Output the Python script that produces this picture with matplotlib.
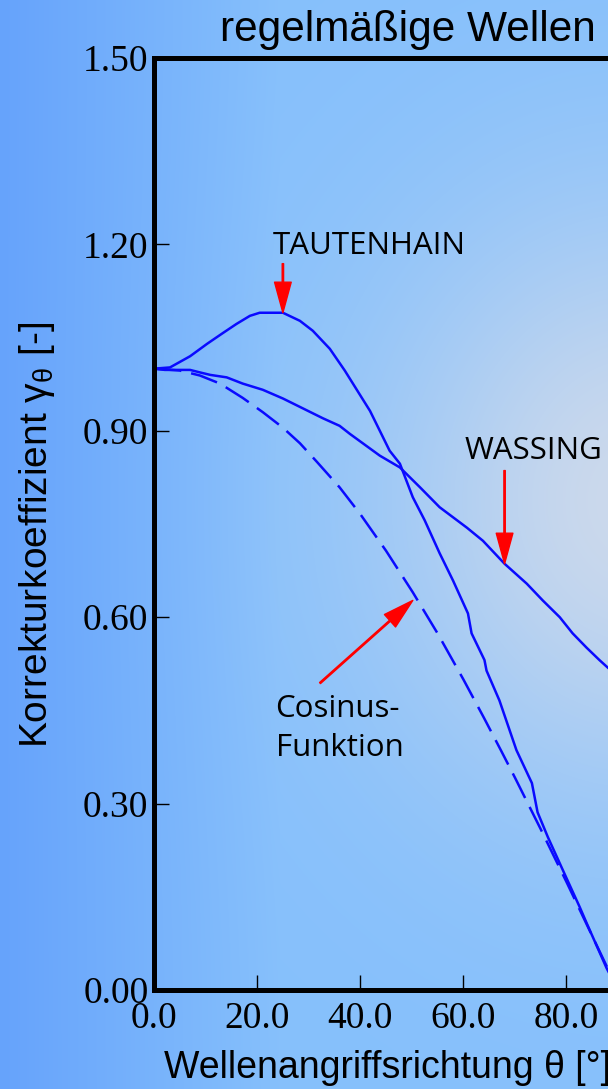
import numpy as np
import matplotlib.pyplot as plt

plt.rcParams['mathtext.fontset'] = 'custom'
plt.rcParams['mathtext.rm'] = 'Liberation Sans'
plt.rcParams['mathtext.it'] = 'Liberation Sans'

tautenhain_x = [0, 3.1, 7.0, 10.3, 13.3, 16.0, 18.6, 20.5, 25.0, 28.3, 30.8, 34.1, 37.0,
                41.9, 45.7, 47.7, 50.2, 52.5, 55.4, 58.0, 60.9, 61.6, 64.1, 64.5, 67.0,
                70.3, 73.3, 74.4, 76.4, 79.3, 82.6, 83.9, 87.8, 90.0]
tautenhain_y = [1.000, 1.002, 1.020, 1.040, 1.057, 1.072, 1.085, 1.090, 1.090, 1.077, 1.061,
                1.032, 0.997, 0.932, 0.868, 0.847, 0.793, 0.756, 0.703, 0.659, 0.606, 0.574,
                0.531, 0.514, 0.466, 0.386, 0.333, 0.286, 0.246, 0.193, 0.133, 0.108, 0.035,
                0.000]

wassing_x = [0, 2.1, 7.0, 8.9, 10.9, 14.1, 17.2, 21.1, 25.0, 28.9, 32.8, 36.0, 38.0, 43.8,
             47.7, 51.6, 55.4, 60.7, 63.8, 68.0, 72.3, 75.4, 78.7, 81.2, 83.9, 86.4, 88.0, 90.0]
wassing_y = [1.000, 0.998, 0.998, 0.994, 0.990, 0.986, 0.976, 0.966, 0.952, 0.936, 0.920,
             0.908, 0.895, 0.860, 0.841, 0.809, 0.777, 0.744, 0.723, 0.686, 0.654, 0.627,
             0.600, 0.574, 0.551, 0.531, 0.519, 0.505]

cosinus_x = [0, 5.0, 8.9, 12.8, 17.2, 21.1, 25.0, 28.3, 31.6, 36.0, 40.0, 45.0, 50.2, 55.0,
             60.0, 64.0, 67.4, 70.0, 75.0, 80.0, 85.0, 90.0]
cosinus_y = [1.000, 0.997, 0.989, 0.976, 0.953, 0.930, 0.905, 0.880, 0.850, 0.809, 0.766,
             0.707, 0.640, 0.574, 0.500, 0.438, 0.384, 0.342, 0.259, 0.174, 0.087, 0.000]

xticks = [0, 20, 40, 60, 80]
yticks = [0.0, 0.3, 0.6, 0.9, 1.2, 1.5]

W, H = 608, 1089
fig = plt.figure(figsize=(W / 100, H / 100), dpi=100)

# background gradient
yy, xx = np.mgrid[0:H, 0:W].astype(float)
c0 = np.array([102, 163, 252]) / 255
c1 = np.array([134, 192, 252]) / 255
c2 = np.array([204, 217, 236]) / 255
t = np.clip(xx / 280, 0, 1)[..., None]
base = c0 + (c1 - c0) * t
w = np.exp(-((xx - 640) / 260) ** 2 - ((yy - 500) / 300) ** 2)[..., None]
img = base + (c2 - base) * w
bg = fig.add_axes([0, 0, 1, 1], zorder=-1)
bg.imshow(img, aspect='auto', extent=[0, 1, 0, 1])
bg.axis('off')

ax = fig.add_axes([154 / W, 1 - 990 / H, 464 / W, 932 / H])
ax.set_facecolor('none')
ax.plot(tautenhain_x, tautenhain_y, color='#0a0aff', lw=1.8)
ax.plot(wassing_x, wassing_y, color='#0a0aff', lw=1.8)
ax.plot(cosinus_x, cosinus_y, color='#0a0aff', lw=1.8, dashes=(11, 4))

ax.set_xlim(0, 90)
ax.set_ylim(0, 1.5)
ax.set_xticks(xticks)
ax.set_xticklabels(['%.1f' % v for v in xticks])
ax.set_yticks(yticks)
ax.set_yticklabels(['%.2f' % v for v in yticks])
for s in ax.spines.values():
    s.set_linewidth(3.6)
ax.tick_params(direction='in', length=11, width=1, labelsize=27)
ax.tick_params(axis='x', pad=8)
ax.tick_params(axis='y', pad=4)
for lab in ax.get_xticklabels() + ax.get_yticklabels():
    lab.set_family('Liberation Serif')

arrow = dict(facecolor='red', edgecolor='red', width=1, headwidth=12, headlength=22)
ax.annotate('', xy=(25.0, 1.09), xytext=(25.0, 1.169), arrowprops=arrow)
ax.annotate('', xy=(68.0, 0.686), xytext=(68.0, 0.836), arrowprops=arrow)
ax.annotate('', xy=(50.2, 0.627), xytext=(32.2, 0.494), arrowprops=arrow)

fs = dict(family='Open Sans', fontsize=22.5, color='black')
ax.text(41.7, 1.198, 'TAUTENHAIN', ha='center', va='center', **fs)
ax.text(60.3, 0.868, 'WASSING', ha='left', va='center', **fs)
ax.text(23.4, 0.453, 'Cosinus-', ha='left', va='center', **fs)
ax.text(23.6, 0.389, 'Funktion', ha='left', va='center', **fs)

fig.text(408 / W, 1 - 30 / H, 'regelmäßige Wellen', ha='center', va='center',
         family='Liberation Sans', fontsize=30.5)
fig.text(388 / W, 1 - 1068 / H, 'Wellenangriffsrichtung θ [°]', ha='center', va='center',
         family='Liberation Sans', fontsize=27)
fig.text(37 / W, 1 - 535 / H, r'Korrekturkoeffizient γ$_{θ}$ [-]', ha='center', va='center',
         rotation=90, family='Liberation Sans', fontsize=28)

fig.savefig('out.png', dpi=100)
